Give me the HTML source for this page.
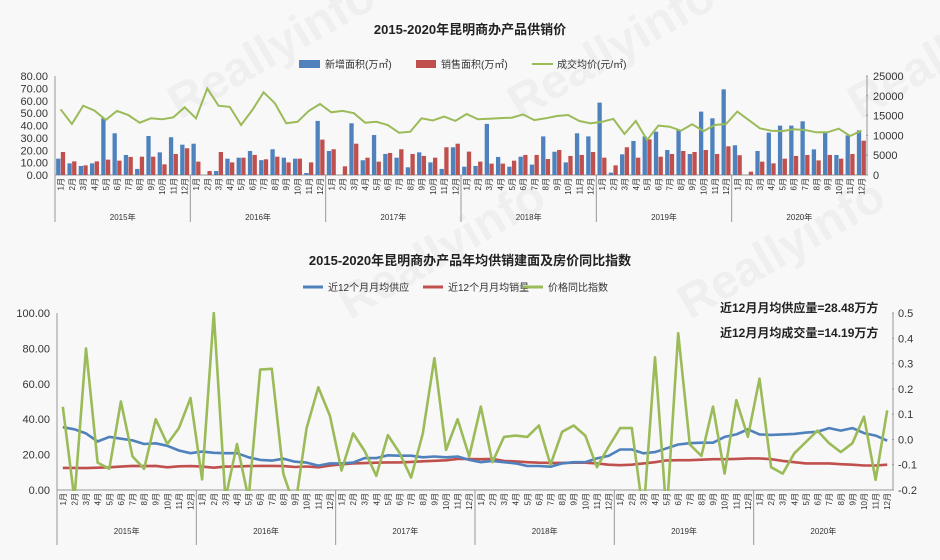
<!DOCTYPE html>
<html><head><meta charset="utf-8"><style>
html,body{margin:0;padding:0;background:#f8f8f8;}
svg{display:block;font-family:"Liberation Sans","Noto Sans CJK SC",sans-serif;}
</style></head><body>
<svg id="s" width="940" height="560" xmlns="http://www.w3.org/2000/svg"></svg>
<script>
var s=document.getElementById('s');var h='';
function t(x,y,txt,o){o=o||{};h+='<text x="'+x+'" y="'+y+'" font-size="'+(o.fs||11)+'" fill="'+(o.c||'#333')+'" text-anchor="'+(o.a||'start')+'"'+(o.b?' font-weight="bold"':'')+(o.tr?' transform="'+o.tr+'"':'')+'>'+txt+'</text>';}
function l(x1,y1,x2,y2,c,w){h+='<line x1="'+x1+'" y1="'+y1+'" x2="'+x2+'" y2="'+y2+'" stroke="'+c+'" stroke-width="'+(w||1)+'"/>';}
for(var k=0;k<6;k++){t(180+k*170,120+(k%2)*200,'Reallyinfo',{fs:48,c:'#efefef',b:1,tr:'rotate(-30 '+(180+k*170)+' '+(120+(k%2)*200)+')'});}
var B=[13.2,9.4,7.3,9.4,45.8,33.7,16.2,4.9,31.5,18.3,30.5,24.5, 25.3,0,3.2,13.2,14,19.4,12,20.8,14,13.2,1.6,43.7, 19.4,0,41.8,11.9,32.3,17,14,6.2,18.3,10.2,4.9,22.4, 6.7,7.3,41.3,14.6,6.7,14.8,8.4,31.2,18.8,10.2,33.7,31.2, 58.5,1.9,16.7,27.5,31.2,35,20.2,36.1,17,51.2,45.8,69.2, 24,0,19.4,34.2,39.9,39.9,43.4,20.7,35,16.2,32,36.1];
var R=[18.6,11,7.8,11,12.4,11.6,14.6,14.8,14.8,8.6,17,21.6, 10.8,3.2,18.6,10.2,14,16.2,12.7,14.8,10.2,13.2,10.2,28.6, 20.8,7,25.3,14,10.8,17.8,20.8,17,15.4,14,22.4,25.3, 18.9,10.8,9.2,9.2,11.6,16.2,16.2,12.9,20.2,15.4,16.2,18.6, 14,7.8,22.4,14,28.8,14.8,17,19.4,18.6,20.2,17,23.2, 16,2.7,10.8,9.4,13.2,15.4,16.2,11.8,16.2,13.2,17,27.7];
var P=[53.1,41.2,56,52,44.5,51.8,48.5,42.3,45.8,45,46.6,54.7, 45.8,70,56,55,40.4,52.6,66.8,58,41.8,43,51.8,57.4, 50.7,51.8,49.9,42.3,43,40.4,34.2,35,45.8,44,47.2,43.7, 49.3,45,45.5,46,46.3,49,44.4,45.8,47.7,48.5,43.6,41.8, 43,45.3,33.2,43.6,28.3,39.9,39,35.8,41,35.5,40.4,41.2, 51.2,44.5,37.7,35.8,35.5,36.9,36.4,34.5,34.5,37.4,31.5,35.8];
t(470,34,'2015-2020年昆明商办产品供销价',{fs:13,b:1,a:'middle',c:'#222'});
h+='<rect x="299" y="60" width="21" height="8" fill="#4f81bd"/>';t(325,68,'新增面积(万㎡)',{fs:10});
h+='<rect x="416" y="60" width="20" height="8" fill="#c0504d"/>';t(441,68,'销售面积(万㎡)',{fs:10});
l(532,64,553,64,'#9bbb59',2);t(557,68,'成交均价(元/㎡)',{fs:10});
var X0=55,X1=867,st=(X1-X0)/72,Y0=175,ky=99/80;
for(var i=0;i<=8;i++){t(48,Y0-i*10*ky+4,(i*10).toFixed(2),{fs:11,a:'end'});}
for(var i=0;i<=5;i++){t(873,Y0-i*5000*ky*80/25000+4,String(i*5000),{fs:11});l(866,Y0-i*19.8,868,Y0-i*19.8,'#999');}
l(X0,76,X0,222,'#999');l(X1,76,X1,Y0,'#999');l(X0,Y0,X1,Y0,'#999');
var pp='';
for(var i=0;i<72;i++){var cx=X0+(i+0.5)*st;
h+='<rect x="'+(cx-4.5)+'" y="'+(Y0-B[i]*ky)+'" width="4.3" height="'+(B[i]*ky)+'" fill="#4f81bd"/>';
h+='<rect x="'+(cx+0.2)+'" y="'+(Y0-R[i]*ky)+'" width="4.3" height="'+(R[i]*ky)+'" fill="#c0504d"/>';
pp+=(i?'L':'M')+cx.toFixed(1)+' '+(Y0-P[i]*ky).toFixed(1);
t(cx+3,178,((i%12)+1)+'月',{fs:8,a:'end',tr:'rotate(-90 '+(cx+3)+' 178)'});}
h+='<path d="'+pp+'" fill="none" stroke="#9bbb59" stroke-width="2"/>';
for(var y=0;y<6;y++){var xs=X0+y*12*st;if(y)l(xs,Y0,xs,222,'#999');t(xs+6*st,220,(2015+y)+'年',{fs:8,a:'middle'});}
t(470,265,'2015-2020年昆明商办产品年均供销建面及房价同比指数',{fs:13,b:1,a:'middle',c:'#222'});
l(303,287,323,287,'#4f81bd',3);t(328,291,'近12个月月均供应',{fs:10});
l(423,287,443,287,'#c0504d',3);t(448,291,'近12个月月均销量',{fs:10});
l(523,287,543,287,'#9bbb59',3);t(548,291,'价格同比指数',{fs:10});
t(720,312,'近12月月均供应量=28.48万方',{fs:12,b:1,c:'#222'});
t(720,337,'近12月月均成交量=14.19万方',{fs:12,b:1,c:'#222'});
var U=[35.5,34.3,32,27.4,30,29,28,26,26.4,25,22.3,20.8, 21.7,21,20.8,20.8,18.5,17,16.6,17.7,16,15.5,13.8,15, 15,15.5,18,18,19.6,19.4,19.4,18.5,18.9,18.5,18.9,17];
var Ur=[-0.09,-0.085,-0.09,-0.095,-0.105,-0.105,-0.108,-0.095,-0.09,-0.09,-0.075,-0.065, -0.04,-0.04,-0.055,-0.05,-0.035,-0.02,-0.015,-0.013,-0.013,0.01,0.02,0.04, 0.02,0.018,0.02,0.022,0.027,0.03,0.045,0.035,0.045,0.025,0.015,-0.005];
Ur.forEach(function(r){U.push((r+0.2)/0.7*100);});
var S=[12.5,12.5,12.4,12.6,12.8,13.2,13.6,13.5,13.6,12.8,13.4,13.5, 13.2,12.6,13.2,13.3,13.5,13.6,13.6,13.5,13,13.3,12.8,13.8, 14.5,15,15.2,15.4,15.6,15.6,15.9,16.2,16.5,16.8,17.5,17.5];
var Sr=[-0.078,-0.077,-0.085,-0.087,-0.09,-0.092,-0.093,-0.093,-0.092,-0.092,-0.095,-0.1, -0.102,-0.1,-0.095,-0.09,-0.083,-0.082,-0.082,-0.08,-0.078,-0.078,-0.077,-0.075, -0.075,-0.078,-0.085,-0.09,-0.095,-0.095,-0.095,-0.098,-0.1,-0.103,-0.103,-0.1];
Sr.forEach(function(r){S.push((r+0.2)/0.7*100);});
var G=[47,-5,80,15.5,12,50,19,12,40,26,35,52, 6,100,-5,26,-5,68,68.5,9,-10,35,58,42, 11,32,22,8,31,21,7,32,74.5,22.6,40,19];
var Gr=[0.13,-0.09,0.01,0.015,0.01,0.055,-0.1,0.03,0.055,0.015,-0.11,-0.03, 0.045,0.045,-0.3,0.325,-0.3,0.42,-0.02,-0.065,0.13,-0.135,0.155,0.01, 0.24,-0.11,-0.135,-0.055,-0.01,0.035,-0.015,-0.05,-0.015,0.09,-0.16,0.115];
Gr.forEach(function(r){G.push((r+0.2)/0.7*100);});
var A0=57,A1=893,s2=(A1-A0)/72,Z0=490,kz=177/100;
for(var i=0;i<=5;i++){t(50,Z0-i*20*kz+4,(i*20).toFixed(2),{fs:11,a:'end'});}
var rl=['-0.2','-0.1','0.0','0.1','0.2','0.3','0.4','0.5'];
for(var i=0;i<8;i++){var yy=Z0-i*177/7;t(898,yy+4,rl[i],{fs:11});l(892,yy,894,yy,'#999');}
l(A0,313,A0,545,'#999');l(A1,313,A1,Z0,'#999');l(A0,Z0,A1,Z0,'#999');
h+='<clipPath id="c"><rect x="'+A0+'" y="312" width="'+(A1-A0)+'" height="179"/></clipPath>';
function path(a,c){var p='';for(var i=0;i<72;i++){var cx=A0+(i+0.5)*s2;p+=(i?'L':'M')+cx.toFixed(1)+' '+(Z0-a[i]*kz).toFixed(1);}h+='<path clip-path="url(#c)" d="'+p+'" fill="none" stroke="'+c+'" stroke-width="2.6" stroke-linejoin="round"/>';}
path(S,'#c0504d');path(U,'#4f81bd');path(G,'#9bbb59');
for(var i=0;i<72;i++){var cx=A0+(i+0.5)*s2;t(cx+3,493,((i%12)+1)+'月',{fs:8,a:'end',tr:'rotate(-90 '+(cx+3)+' 493)'});}
for(var y=0;y<6;y++){var xs=A0+y*12*s2;if(y)l(xs,Z0,xs,545,'#999');t(xs+6*s2,534,(2015+y)+'年',{fs:8,a:'middle'});}
s.innerHTML=h;
</script>
</body></html>
